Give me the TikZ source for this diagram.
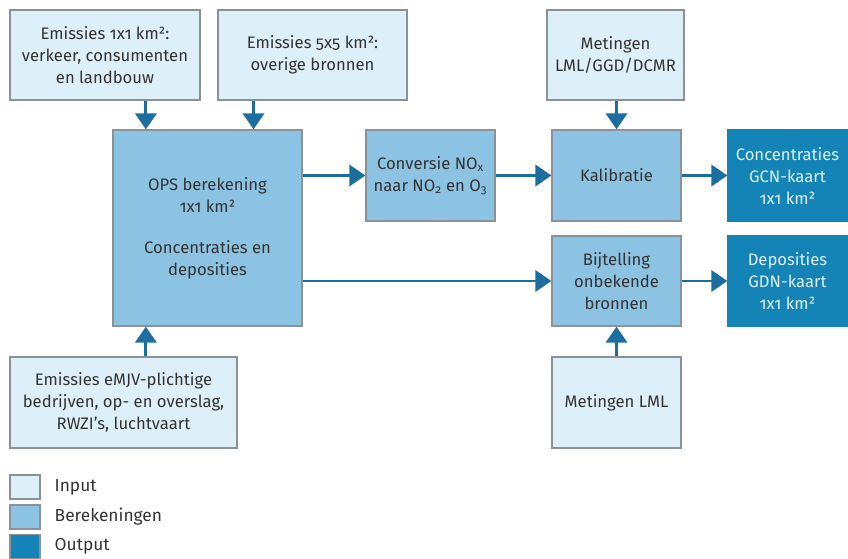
\documentclass[tikz,border=0pt]{standalone}
\usepackage{fontspec}
\setmainfont{Fira Sans}[Numbers=OldStyle]
\usepackage{tikz}
\usetikzlibrary{arrows.meta}

\definecolor{InBlue}{HTML}{DDEFF9}
\definecolor{CalcBlue}{HTML}{8CC2E2}
\definecolor{OutBlue}{HTML}{1384B5}
\definecolor{FlowBlue}{HTML}{1C6E9F}
\definecolor{EdgeGrey}{HTML}{8A9297}
\definecolor{TextGrey}{HTML}{333333}

\begin{document}
\begin{tikzpicture}[x=0.75pt, y=-0.75pt,
  box/.style={draw=EdgeGrey, line width=1pt, inner sep=0pt, align=center, text=TextGrey, font=\fontsize{12.5}{16.5}\selectfont},
  inbox/.style={box, fill=InBlue},
  calcbox/.style={box, fill=CalcBlue},
  outbox/.style={box, fill=OutBlue, draw=OutBlue, text=InBlue},
  flow/.style={draw=FlowBlue, line width=2.2pt, -{Triangle[width=16pt, length=12pt]}},
  legbox/.style={draw=EdgeGrey, line width=1pt, minimum width=22.5pt, minimum height=18pt, inner sep=0pt},
  legtext/.style={anchor=west, text=TextGrey, font=\fontsize{13}{15}\selectfont}]

\useasboundingbox (0,0) rectangle (848,558);

% input
\node[inbox, minimum width=142.5pt, minimum height=67.5pt] (emis1) at (105,55) {Emissies 1x1 km²:\\verkeer, consumenten\\en landbouw};
\node[inbox, minimum width=141.75pt, minimum height=67.5pt] (emis5) at (312.5,55) {Emissies 5x5 km²:\\overige bronnen};
\node[inbox, minimum width=102.75pt, minimum height=67.5pt] (meting) at (615.5,55) {Metingen\\LML/GGD/DCMR};
\node[inbox, minimum width=170.25pt, minimum height=68.25pt] (emjv) at (123.5,402.5) {Emissies eMJV-plichtige\\bedrijven, op- en overslag,\\RWZI’s, luchtvaart};
\node[inbox, minimum width=96.75pt, minimum height=68.25pt] (lml) at (616.5,402.5) {Metingen LML};

% berekeningen
\node[calcbox, minimum width=141.75pt, minimum height=147pt] (ops) at (207.5,228) {OPS berekening\\1x1 km²\\[14pt]Concentraties en\\deposities};
\node[calcbox, minimum width=96.75pt, minimum height=68.25pt] (conv) at (430.5,175.5) {Conversie NO\textsubscript{x}\\naar NO\textsubscript{2} en O\textsubscript{3}};
\node[calcbox, minimum width=96.75pt, minimum height=68.25pt] (kalib) at (616.5,175.5) {Kalibratie};
\node[calcbox, minimum width=96.75pt, minimum height=67.5pt] (bijt) at (616.5,281) {Bijtelling\\onbekende\\bronnen};

% output
\node[outbox, minimum width=89.25pt, minimum height=68.25pt] (conc) at (787.5,175.5) {Concentraties\\GCN-kaart\\1x1 km²};
\node[outbox, minimum width=89.25pt, minimum height=67.5pt] (depo) at (787.5,281) {Deposities\\GDN-kaart\\1x1 km²};

% pijlen
\draw[flow] (ops.122 |- emis1.south) -- (ops.122);
\draw[flow] (ops.65 |- emis5.south) -- (ops.65);
\draw[flow] (emjv.north -| ops.-122) -- (ops.-122);
\draw[flow] (ops.east |- conv.west) -- (conv.west);
\draw[flow] (conv) -- (kalib);
\draw[flow] (meting.south -| kalib.north) -- (kalib.north);
\draw[flow] (kalib) -- (conc);
\draw[flow] (ops.east |- bijt.west) -- (bijt.west);
\draw[flow] (bijt) -- (depo);
\draw[flow] (lml) -- (bijt);

% legenda
\node[legbox, fill=InBlue] (legin) at (25,487) {};
\node[legbox, fill=CalcBlue] (legcalc) at (25,517) {};
\node[legbox, fill=OutBlue] (legout) at (25,546.5) {};
\node[legtext] (txtin) at (50,487) {Input};
\node[legtext] (txtcalc) at (50,517) {Berekeningen};
\node[legtext] (txtout) at (50,546.5) {Output};

\end{tikzpicture}
\end{document}
